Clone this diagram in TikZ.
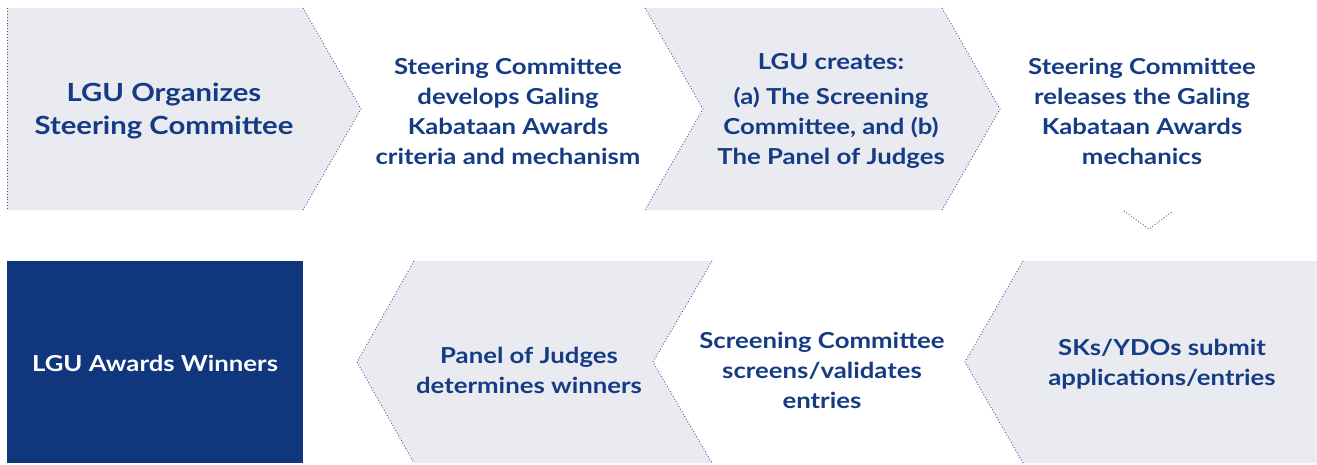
\documentclass[tikz,border=0pt]{standalone}
\usepackage{fontspec}
\setmainfont{Lato}[FakeStretch=1.17]
\definecolor{panel}{HTML}{EAEBF1}
\definecolor{navy}{HTML}{10367D}
\definecolor{ink}{HTML}{143B84}
\definecolor{dotc}{HTML}{3A5A9A}
\begin{document}
\begin{tikzpicture}[x=1pt,y=-1pt,
  edge/.style={dotc,dotted,line width=0.9pt},
  panelfill/.style={fill=panel,draw=none},
  txt/.style={text=ink,font=\fontsize{22}{30}\selectfont\bfseries,align=center,inner sep=0pt},
  bigtxt/.style={text=ink,font=\fontsize{25}{33}\selectfont\bfseries,align=center,inner sep=0pt}]
\useasboundingbox (0,0) rectangle (1317,464);
% top row shapes
\fill[panelfill] (7,8) -- (303,8) -- (361,109) -- (303,210) -- (7,210) -- cycle;
\draw[edge] (7,8) -- (7,210);
\draw[edge] (303,8) -- (361,109) -- (303,210);
\fill[panelfill] (645,8) -- (942,8) -- (1000,109) -- (942,210) -- (645,210) -- (703,109) -- cycle;
\draw[edge] (645,8) -- (703,109) -- (645,210);
\draw[edge] (942,8) -- (1000,109) -- (942,210);
\draw[edge] (1124,211) -- (1149,229) -- (1173,211);
% bottom row shapes
\fill[panelfill] (1023,261) -- (1317,261) -- (1317,463) -- (1023,463) -- (965,362) -- cycle;
\draw[edge] (1023,261) -- (965,362) -- (1023,463);
\fill[panelfill] (414,261) -- (712,261) -- (653,362) -- (712,463) -- (414,463) -- (357,362) -- cycle;
\draw[edge] (414,261) -- (357,362) -- (414,463);
\draw[edge] (712,261) -- (653,362) -- (712,463);
\fill[navy] (7,261) rectangle (303,463);
% texts
\node[bigtxt] (t1) at (164,111) {LGU Organizes\\Steering Committee};
\node[txt] (t2) at (508,111) {Steering Committee\\develops Galing\\Kabataan Awards\\criteria and mechanism};
\node[txt] (t3) at (831,111) {LGU creates:\\[5pt](a) The Screening\\Committee, and (b)\\The Panel of Judges};
\node[txt] (t4) at (1142,111) {Steering Committee\\releases the Galing\\Kabataan Awards\\mechanics};
\node[txt] (t5) at (1162,364) {SKs/YDOs submit\\applications/entries};
\node[txt] (t6) at (822,370) {Screening Committee\\screens/validates\\entries};
\node[txt] (t7) at (529,370) {Panel of Judges\\determines winners};
\node[txt,text=white] (t8) at (155,363) {LGU Awards Winners};
\end{tikzpicture}
\end{document}
